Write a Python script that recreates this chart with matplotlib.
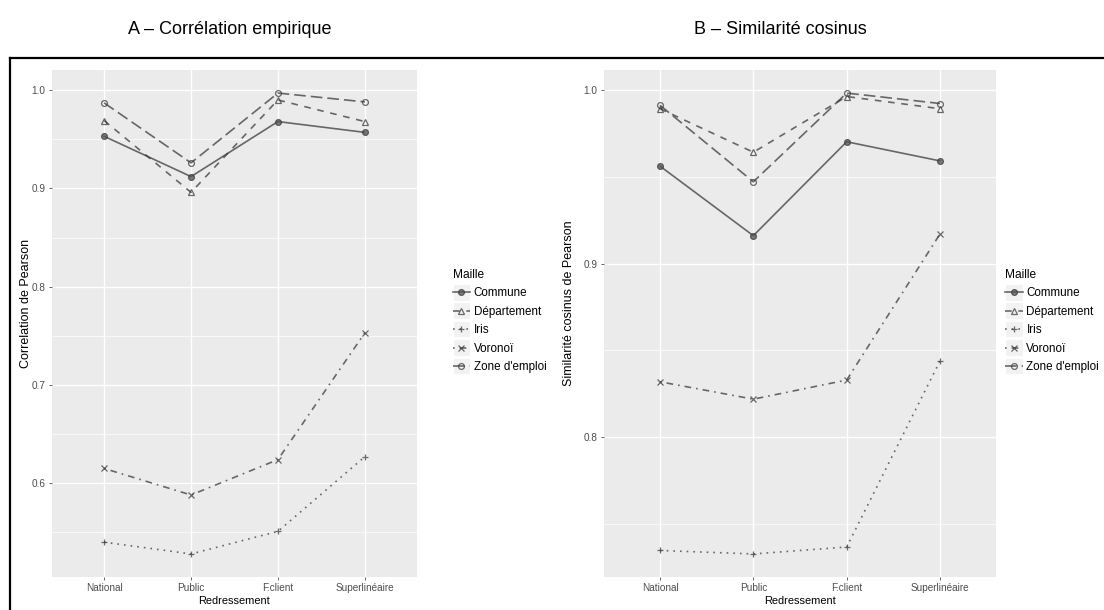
import matplotlib
matplotlib.use('Agg')
import matplotlib.pyplot as plt
from matplotlib.legend_handler import HandlerLine2D
from matplotlib.patches import Rectangle
from matplotlib.lines import Line2D

# Data
categories = ['National', 'Public', 'F.client', 'Superlinéaire']
mailles = ['Commune', 'Département', 'Iris', 'Voronoï', "Zone d'emploi"]

corr_commune = [0.953, 0.912, 0.968, 0.957]
corr_departement = [0.969, 0.896, 0.990, 0.968]
corr_iris = [0.540, 0.528, 0.551, 0.627]
corr_voronoi = [0.615, 0.588, 0.624, 0.753]
corr_zone = [0.987, 0.926, 0.997, 0.988]

cos_commune = [0.956, 0.916, 0.970, 0.959]
cos_departement = [0.989, 0.964, 0.996, 0.989]
cos_iris = [0.735, 0.733, 0.737, 0.844]
cos_voronoi = [0.832, 0.822, 0.833, 0.917]
cos_zone = [0.991, 0.947, 0.998, 0.992]

styles = {
    'Commune': dict(ls='-', marker='o', mfc='#555555'),
    'Département': dict(ls=(0, (4, 4)), marker='^', mfc='none'),
    'Iris': dict(ls=(0, (1, 3)), marker='+', mfc='none'),
    'Voronoï': dict(ls=(0, (1, 3, 4, 3)), marker='x', mfc='none'),
    "Zone d'emploi": dict(ls=(0, (7, 3)), marker='o', mfc='none'),
}

plt.rcParams['font.family'] = ['Liberation Sans', 'DejaVu Sans']


class KeyHandler(HandlerLine2D):
    # grey key background like ggplot legends
    def create_artists(self, legend, orig_handle, xdescent, ydescent,
                       width, height, fontsize, trans):
        bg = Rectangle((-xdescent, -ydescent - 3), width, height + 6,
                       facecolor='#F2F2F2', edgecolor='white', lw=0.8,
                       transform=trans)
        arts = super().create_artists(legend, orig_handle, xdescent, ydescent,
                                      width, height, fontsize, trans)
        return [bg] + arts


def draw_panel(ax, series, ylabel, yticks, minor, leg_x, ylab_x):
    x = list(range(len(categories)))
    ax.set_facecolor('#EBEBEB')
    for name, vals in zip(mailles, series):
        st = styles[name]
        ax.plot(x, vals, color='#3a3a3a', alpha=0.75, lw=1.2, ls=st['ls'],
                marker=st['marker'], ms=4.2, mfc=st['mfc'], mec='#3a3a3a',
                mew=0.9, label=name, zorder=3)
    allv = [v for s in series for v in s]
    lo, hi = min(allv), max(allv)
    pad = (hi - lo) * 0.05
    ax.set_ylim(lo - pad, hi + pad)
    ax.set_xlim(-0.6, len(categories) - 0.4)
    ax.set_xticks(x)
    ax.set_xticklabels(categories)
    ax.set_yticks(yticks)
    ax.set_yticklabels([f'{t:.1f}' for t in yticks])
    ax.set_yticks(minor, minor=True)
    ax.grid(True, which='major', color='white', lw=1.0, zorder=0)
    ax.grid(True, which='minor', axis='y', color='white', lw=0.5, zorder=0)
    ax.set_axisbelow(True)
    for sp in ax.spines.values():
        sp.set_visible(False)
    ax.tick_params(which='major', length=2.5, width=0.6, color='#4D4D4D',
                   labelsize=7.2, labelcolor='#4D4D4D', pad=2)
    ax.tick_params(which='minor', length=0)
    ax.set_xlabel('Redressement', fontsize=7.9, labelpad=2)
    ax.set_ylabel(ylabel, fontsize=9)
    ax.yaxis.set_label_coords(ylab_x, 0.54)
    leg = ax.legend(loc='center left', bbox_to_anchor=(leg_x, 0.505), frameon=False,
                    title='Maille', fontsize=8.4, title_fontsize=8.6,
                    handlelength=1.5, handletextpad=0.3, labelspacing=0.55,
                    borderaxespad=0.0,
                    alignment='left', handler_map={Line2D: KeyHandler()})
    return leg


fig = plt.figure(figsize=(11.04, 6.10), dpi=100)
ax1 = fig.add_axes([0.0471, 0.0541, 0.3306, 0.8311])
ax2 = fig.add_axes([0.5471, 0.0541, 0.3551, 0.8311])

draw_panel(ax1, [corr_commune, corr_departement, corr_iris, corr_voronoi, corr_zone],
           'Correlation de Pearson', [0.6, 0.7, 0.8, 0.9, 1.0],
           [0.55, 0.65, 0.75, 0.85, 0.95], 1.085, -0.055)
draw_panel(ax2, [cos_commune, cos_departement, cos_iris, cos_voronoi, cos_zone],
           'Similarité cosinus de Pearson', [0.8, 0.9, 1.0],
           [0.75, 0.85, 0.95], 1.012, -0.074)

fig.text(230 / 1104, 1 - 30 / 610, 'A – Corrélation empirique', ha='center',
         va='center', fontsize=13)
fig.text(780 / 1104, 1 - 30 / 610, 'B – Similarité cosinus', ha='center',
         va='center', fontsize=13)

# cropped frame around the panels
fig.add_artist(Line2D([10 / 1104, 1.0], [1 - 58 / 610, 1 - 58 / 610],
                      color='black', lw=1.6, transform=fig.transFigure))
fig.add_artist(Line2D([10 / 1104, 10 / 1104], [0.0, 1 - 58 / 610],
                      color='black', lw=1.6, transform=fig.transFigure))

fig.savefig('out.png', dpi=100)
